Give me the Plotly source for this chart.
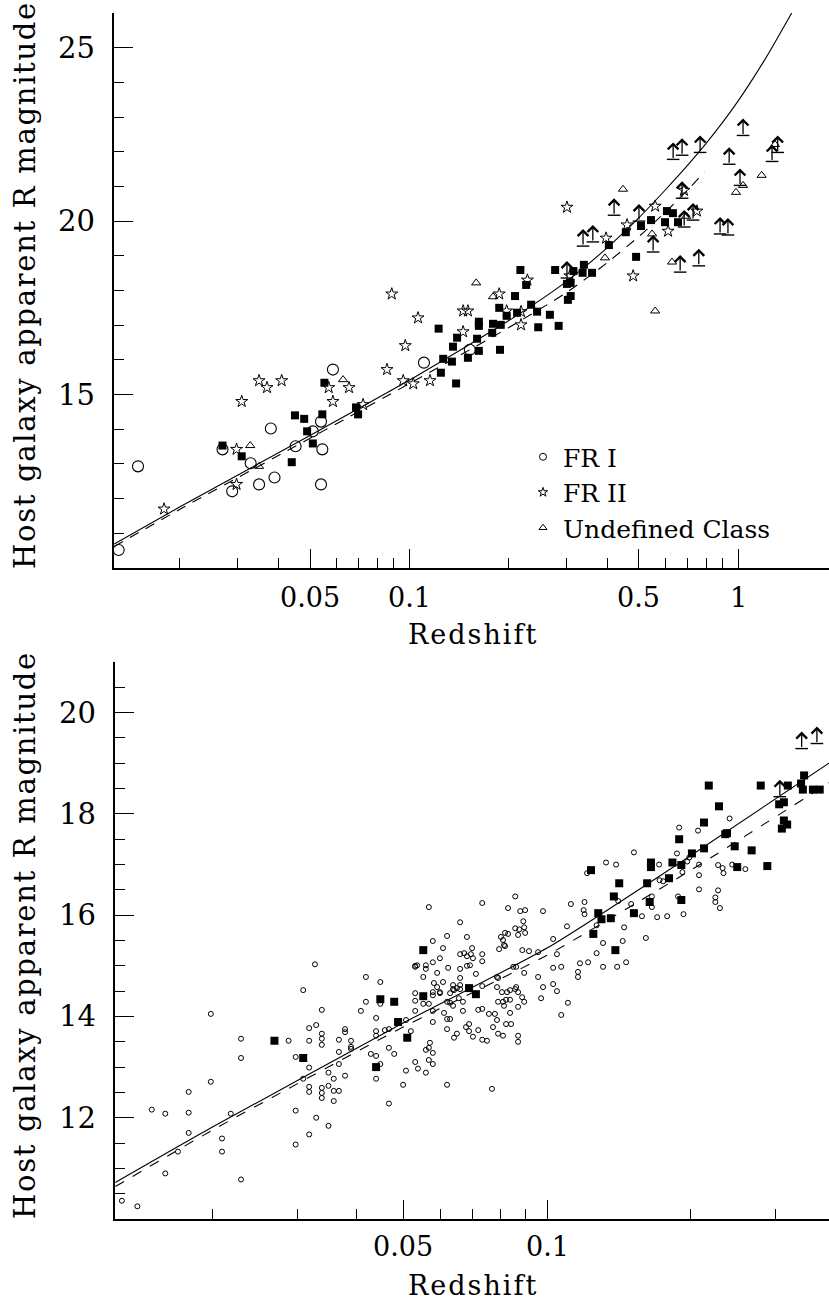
import math
import plotly.graph_objects as go

FONT = "DejaVu Serif"

# ---------------- upper panel: classified radio galaxies ----------------
fr1 = [(0.0131, 10.52), (0.0150, 12.93), (0.0271, 13.42), (0.0290, 12.21), (0.0330, 13.02),
       (0.0350, 12.41), (0.0380, 14.02), (0.0390, 12.61), (0.0452, 13.51), (0.0510, 13.94),
       (0.0540, 14.22), (0.0545, 13.42), (0.0540, 12.41), (0.0587, 15.72), (0.111, 15.92),
       (0.153, 16.29)]

fr2 = [(0.0180, 11.70), (0.0299, 13.42), (0.0299, 12.41), (0.0310, 14.80), (0.0350, 15.40),
       (0.0370, 15.20), (0.0410, 15.40), (0.0570, 15.20), (0.0587, 14.80), (0.0657, 15.20),
       (0.0725, 14.71), (0.0857, 15.72), (0.0960, 15.40), (0.0974, 16.41), (0.103, 15.31),
       (0.1158, 15.40), (0.0886, 17.90), (0.1065, 17.21), (0.146, 16.81), (0.146, 17.41),
       (0.151, 17.41), (0.188, 17.90), (0.198, 17.41), (0.219, 17.39), (0.219, 17.01),
       (0.229, 18.30), (0.302, 20.40), (0.308, 18.42), (0.397, 19.51), (0.460, 19.89),
       (0.480, 18.42), (0.560, 20.43), (0.613, 19.71), (0.685, 20.89), (0.750, 20.29)]

undef = [(0.0329, 13.53), (0.0350, 12.93), (0.0630, 15.43), (0.160, 18.22), (0.180, 17.82),
         (0.447, 20.92), (0.394, 18.94), (0.548, 19.63), (0.630, 18.82), (0.560, 17.41),
         (0.986, 20.83), (1.036, 21.03), (1.180, 21.32), (1.295, 22.21), (0.696, 20.14)]

top_filled = [(0.0271, 13.53), (0.031, 13.22), (0.044, 13.05), (0.045, 14.40), (0.048, 14.30),
              (0.049, 13.94), (0.051, 13.59), (0.0545, 14.43), (0.0553, 15.34), (0.069, 14.63),
              (0.070, 14.43), (0.123, 16.90), (0.140, 16.64), (0.136, 16.38), (0.127, 16.03),
              (0.135, 15.95), (0.125, 15.63), (0.139, 15.32), (0.151, 16.06), (0.163, 16.26),
              (0.161, 16.61), (0.163, 17.10), (0.163, 16.98), (0.179, 16.78), (0.180, 17.04),
              (0.190, 17.01), (0.189, 16.29), (0.188, 17.50), (0.210, 17.84), (0.198, 17.27),
              (0.213, 17.36), (0.218, 18.59), (0.227, 18.16), (0.235, 17.59), (0.245, 17.39),
              (0.247, 16.94), (0.268, 17.30), (0.285, 16.98), (0.304, 17.73), (0.278, 18.59),
              (0.302, 18.19), (0.310, 18.22), (0.310, 17.84), (0.316, 18.56), (0.340, 18.74),
              (0.337, 18.51), (0.360, 18.51), (0.405, 19.31), (0.456, 19.68), (0.490, 18.97),
              (0.507, 19.86), (0.544, 20.03), (0.600, 19.97), (0.608, 20.29), (0.634, 20.23),
              (0.657, 19.97)]

# lower limits (magnitude is a bound, arrow points fainter)
top_limits = [(0.302, 18.36), (0.338, 19.28), (0.362, 19.40), (0.420, 20.17), (0.500, 20.00),
              (0.552, 19.11), (0.635, 21.78), (0.676, 21.90), (0.767, 21.98), (0.676, 20.66),
              (0.686, 19.83), (0.730, 20.03), (0.667, 18.53), (0.760, 18.71), (0.882, 19.63),
              (0.932, 19.60), (0.940, 21.64), (1.014, 21.03), (1.036, 22.47), (1.269, 21.72),
              (1.320, 21.98)]

top_model_solid = [(0.0127, 10.69), (0.02, 11.75), (0.05, 13.82), (0.1, 15.41), (0.2, 17.12),
                   (0.3, 18.25), (0.4, 19.23), (0.5, 20.10), (0.6, 20.89), (0.7, 21.59),
                   (0.8, 22.24), (0.9, 22.86), (1.0, 23.46), (1.1, 24.05), (1.2, 24.62),
                   (1.3, 25.18), (1.46, 26.02)]
top_model_dashed = [(0.0127, 10.62), (0.02, 11.68), (0.05, 13.74), (0.1, 15.31), (0.2, 16.92),
                    (0.3, 17.93), (0.4, 18.80), (0.5, 19.56), (0.6, 20.25), (0.7, 20.88),
                    (0.79, 21.41)]

# ---------------- lower panel ----------------
bottom_open = [
    (0.0129, 10.36), (0.0139, 10.25), (0.0149, 12.16), (0.0159, 12.08), (0.0159, 10.90),
    (0.0169, 11.33), (0.0178, 12.51), (0.0178, 12.10), (0.0178, 11.70), (0.0198, 14.05),
    (0.0198, 12.71), (0.0209, 11.59), (0.0209, 11.33), (0.0218, 12.08), (0.0229, 13.56),
    (0.0229, 13.18), (0.0229, 10.78), (0.0288, 13.52), (0.0298, 12.14), (0.0298, 11.47),
    (0.0298, 13.20), (0.0309, 14.52), (0.0318, 13.77), (0.0318, 13.52), (0.0318, 12.99),
    (0.0309, 12.77), (0.0318, 12.61), (0.0318, 12.51), (0.0318, 11.67), (0.0327, 15.03),
    (0.0329, 13.83), (0.0329, 12.00), (0.0338, 14.13), (0.0338, 13.66), (0.0338, 13.56),
    (0.0338, 13.44), (0.0338, 12.59), (0.0338, 12.49), (0.0338, 12.39), (0.0349, 12.89),
    (0.0349, 12.63), (0.0349, 11.84), (0.0358, 12.77), (0.0358, 12.53), (0.0367, 12.53),
    (0.0358, 12.33), (0.0367, 13.54), (0.0367, 13.30), (0.0367, 13.06), (0.0378, 13.75),
    (0.0378, 13.69), (0.0389, 13.52), (0.0389, 13.40), (0.0389, 13.36), (0.0378, 12.83),
    (0.0408, 14.11), (0.0418, 14.78), (0.0418, 14.29), (0.0428, 13.26), (0.0439, 13.97),
    (0.0439, 13.71), (0.0439, 13.62), (0.0439, 13.22), (0.0439, 12.77), (0.0448, 14.68),
    (0.0448, 14.25), (0.0448, 13.06), (0.0458, 13.73), (0.0467, 13.75), (0.0467, 13.38),
    (0.0467, 12.28), (0.0479, 13.26), (0.0500, 12.65), (0.0507, 12.93), (0.0507, 13.93),
    (0.0519, 13.71), (0.0530, 15.00), (0.0530, 14.46), (0.0530, 14.31), (0.0530, 14.11),
    (0.0530, 13.10), (0.0537, 12.97),
    (0.0558, 12.89), (0.0566, 13.14), (0.0577, 13.06), (0.0558, 13.34), (0.0566, 13.38),
    (0.0569, 13.48), (0.0577, 13.28), (0.0551, 14.25), (0.0566, 14.25), (0.0577, 14.11),
    (0.0577, 13.89), (0.0577, 14.42), (0.0597, 14.46), (0.0589, 14.58), (0.0609, 14.07),
    (0.0618, 14.29), (0.0627, 14.27), (0.0636, 14.21), (0.0618, 13.95), (0.0627, 13.95),
    (0.0618, 13.75), (0.0639, 13.58), (0.0648, 13.66), (0.0667, 14.11), (0.0677, 13.79),
    (0.0687, 13.71), (0.0687, 13.85), (0.0700, 13.60), (0.0718, 13.73), (0.0718, 14.13),
    (0.0732, 14.15), (0.0732, 13.54), (0.0749, 13.52), (0.0756, 14.05), (0.0778, 14.05),
    (0.0786, 13.93), (0.0771, 13.79), (0.0790, 13.66), (0.0809, 13.62), (0.0821, 13.85),
    (0.0841, 13.85), (0.0837, 14.07), (0.0870, 13.62), (0.0870, 13.50), (0.0767, 12.57),
    (0.0618, 12.65), (0.0805, 14.48), (0.0825, 14.48), (0.0837, 14.52), (0.0858, 14.54),
    (0.0786, 14.78), (0.0790, 14.29), (0.0809, 14.29), (0.0821, 14.33), (0.0837, 14.33),
    (0.0887, 14.38), (0.0896, 14.29), (0.0896, 14.86), (0.0958, 14.78), (0.0981, 14.58),
    (0.0972, 14.36), (0.1030, 14.96), (0.1071, 14.98), (0.1030, 14.64), (0.1049, 14.50),
    (0.1071, 14.03), (0.1106, 14.27), (0.1161, 14.88), (0.1161, 14.78), (0.1172, 15.05),
    (0.1219, 15.07), (0.1310, 14.98), (0.1402, 14.98), (0.1464, 15.07), (0.0732, 14.60),
    (0.0658, 14.54), (0.0658, 14.62), (0.0636, 14.62), (0.0636, 14.54),
    (0.0566, 16.16), (0.0732, 16.24), (0.0858, 16.37), (0.0829, 16.14), (0.0879, 16.08),
    (0.0900, 16.10), (0.0981, 16.08), (0.1122, 16.22), (0.0658, 15.86), (0.0892, 15.88),
    (0.0896, 15.76), (0.0875, 15.72), (0.0858, 15.74), (0.0900, 15.65), (0.0577, 15.49),
    (0.0618, 15.59), (0.0680, 15.57), (0.0801, 15.57), (0.0817, 15.65), (0.0829, 15.63),
    (0.0813, 15.41), (0.0809, 15.51), (0.0870, 15.61), (0.1101, 15.78), (0.1030, 15.53),
    (0.0817, 15.39), (0.0794, 15.33), (0.0697, 15.35), (0.0606, 15.35), (0.0888, 15.31),
    (0.0917, 15.29), (0.0658, 15.23), (0.0671, 15.25), (0.0680, 15.19), (0.0693, 15.23),
    (0.0732, 15.23), (0.0732, 15.09), (0.0700, 15.15), (0.0577, 15.07), (0.0597, 15.15),
    (0.0558, 15.01), (0.0535, 15.01), (0.0530, 14.98), (0.0558, 14.94), (0.0621, 14.96),
    (0.0658, 14.94), (0.0680, 15.00), (0.0690, 15.01), (0.0589, 14.86), (0.0551, 14.78),
    (0.0580, 14.66), (0.0606, 14.68), (0.0597, 14.48), (0.0577, 14.48), (0.0658, 14.76),
    (0.0710, 14.84), (0.0790, 14.76), (0.0786, 14.58), (0.0870, 14.48), (0.0850, 14.98),
    (0.0862, 14.98), (0.0862, 14.58), (0.0813, 14.21), (0.0870, 14.19), (0.0667, 14.29),
    (0.0654, 14.36), (0.0639, 14.52), (0.0648, 14.56), (0.0627, 14.46), (0.0958, 15.27),
    (0.1049, 15.23),
    (0.1198, 16.26), (0.1193, 16.10), (0.1198, 16.02), (0.1213, 16.83), (0.1329, 17.04),
    (0.1395, 17.00), (0.1520, 17.24), (0.1409, 16.28), (0.1500, 16.22), (0.1580, 15.98),
    (0.1700, 15.96), (0.1784, 15.98), (0.1930, 16.02), (0.1657, 16.37), (0.1657, 16.16),
    (0.1716, 17.00), (0.1720, 16.69), (0.1750, 16.67), (0.1890, 17.73), (0.1870, 17.22),
    (0.1965, 17.06), (0.1985, 17.14), (0.1920, 16.85), (0.1880, 16.37), (0.2070, 17.67),
    (0.2080, 17.00), (0.2080, 16.79), (0.2080, 16.51), (0.2280, 16.99), (0.2330, 16.93),
    (0.2340, 16.83), (0.2280, 16.49), (0.2250, 16.35), (0.2250, 16.26), (0.2300, 16.14),
    (0.2410, 17.91), (0.2440, 17.00), (0.2600, 16.91), (0.1310, 15.45), (0.1270, 15.80),
    (0.1440, 15.49), (0.1610, 15.55), (0.1450, 15.76), (0.1270, 15.25)]

bottom_filled = [(0.0269, 13.52), (0.0309, 13.18), (0.0439, 13.00), (0.0448, 14.34),
                 (0.0479, 14.29), (0.0488, 13.89), (0.0510, 13.58), (0.0551, 14.40),
                 (0.0551, 15.31), (0.0687, 14.56), (0.0710, 14.44), (0.1236, 16.89),
                 (0.1416, 16.63), (0.138, 16.37), (0.128, 16.04), (0.130, 15.92),
                 (0.136, 15.94), (0.125, 15.63), (0.139, 15.31), (0.152, 16.04),
                 (0.162, 16.63), (0.165, 17.04), (0.165, 16.95), (0.164, 16.26),
                 (0.180, 16.73), (0.183, 17.04), (0.191, 16.99), (0.189, 17.50),
                 (0.191, 16.30), (0.201, 17.22), (0.213, 17.83), (0.213, 17.32),
                 (0.218, 18.56), (0.229, 18.15), (0.236, 17.60), (0.238, 17.62),
                 (0.247, 17.36), (0.250, 16.95), (0.268, 17.28), (0.280, 18.56),
                 (0.289, 16.97), (0.306, 18.19), (0.313, 18.23), (0.310, 17.71),
                 (0.313, 17.87), (0.318, 17.79), (0.319, 18.56), (0.340, 18.60),
                 (0.343, 18.48), (0.345, 18.76), (0.360, 18.48), (0.372, 18.48)]

bottom_limits = [(0.307, 18.34), (0.341, 19.29), (0.367, 19.39)]

bottom_model_solid = [(0.0125, 10.72), (0.02, 11.82), (0.05, 13.87), (0.1, 15.35),
                      (0.2, 17.18), (0.39, 19.01)]
bottom_model_dashed = [(0.0125, 10.64), (0.02, 11.76), (0.05, 13.79), (0.1, 15.21),
                       (0.2, 16.89), (0.39, 18.62)]

# tick definitions
top_x_major = [0.05, 0.1, 0.5, 1]
top_x_labels = ["0.05", "0.1", "0.5", "1"]
top_x_minor = [0.02, 0.03, 0.04, 0.06, 0.07, 0.08, 0.09, 0.2, 0.3, 0.4, 0.6, 0.7, 0.8, 0.9]
top_y_major = [15, 20, 25]
top_y_minor = [11, 12, 13, 14, 16, 17, 18, 19, 21, 22, 23, 24, 26]
bot_x_major = [0.05, 0.1]
bot_x_labels = ["0.05", "0.1"]
bot_x_minor = [0.02, 0.03, 0.04, 0.06, 0.07, 0.08, 0.09, 0.2, 0.3]
bot_y_major = [12, 14, 16, 18, 20]
bot_y_minor = [10.5, 11, 11.5, 12.5, 13, 13.5, 14.5, 15, 15.5, 16.5, 17, 17.5,
               18.5, 19, 19.5, 20.5]

# ---------------- figure geometry (pixels) ----------------
W, H = 829, 1303
L = 114
PW = W - L


def px_x(p):
    return (p - L) / PW


def px_y(p):
    return (H - p) / H


def unzip(pairs):
    return [a for a, _ in pairs], [b for _, b in pairs]


fig = go.Figure()


def markers(pairs, xa, ya, symbol, size, filled=False, lw=1.0):
    xs, ys = unzip(pairs)
    mk = dict(symbol=symbol, size=size, color="black",
              line=dict(width=0 if filled else lw, color="black"))
    fig.add_trace(go.Scatter(x=xs, y=ys, mode="markers", marker=mk, xaxis=xa, yaxis=ya,
                             showlegend=False, hoverinfo="skip"))


def curve(pairs, xa, ya, dash):
    xs, ys = unzip(pairs)
    fig.add_trace(go.Scatter(x=xs, y=ys, mode="lines", xaxis=xa, yaxis=ya,
                             line=dict(color="black", width=1.1, dash=dash, shape="spline",
                                       smoothing=0.6),
                             showlegend=False, hoverinfo="skip"))


def limits(pairs, xa, ya, xref, yref):
    xs, ys = unzip(pairs)
    fig.add_trace(go.Scatter(x=xs, y=ys, mode="markers", xaxis=xa, yaxis=ya,
                             marker=dict(symbol="line-ew", size=9, color="black",
                                         line=dict(width=1.4, color="black")),
                             showlegend=False, hoverinfo="skip"))
    for z, m in pairs:
        fig.add_annotation(x=math.log10(z), y=m, xref=xref, yref=yref, text="",
                           showarrow=True, ax=0, ay=17, yshift=17, arrowhead=4,
                           arrowsize=1.6, arrowwidth=1.3, arrowcolor="black",
                           standoff=0, startstandoff=0)


# upper panel
curve(top_model_solid, "x", "y", "solid")
curve(top_model_dashed, "x", "y", "10px,8px")
markers(top_filled, "x", "y", "square", 8, filled=True)
markers(fr1, "x", "y", "circle-open", 11, lw=1.1)
markers(fr2, "x", "y", "star-open", 9, lw=1.0)
markers(undef, "x", "y", "triangle-up-open", 8, lw=1.0)
limits(top_limits, "x", "y", "x", "y")

# legend entries
for nm, sym in [("FR I", "circle-open"), ("FR II", "star-open"),
                ("Undefined Class", "triangle-up-open")]:
    fig.add_trace(go.Scatter(x=[None], y=[None], mode="markers", name=nm,
                             marker=dict(symbol=sym, size=7, color="black",
                                         line=dict(width=1, color="black")),
                             xaxis="x", yaxis="y", showlegend=True))

# lower panel
curve(bottom_model_solid, "x2", "y2", "solid")
curve(bottom_model_dashed, "x2", "y2", "10px,10px")
markers(bottom_open, "x2", "y2", "circle-open", 5, lw=1.0)
markers(bottom_filled, "x2", "y2", "square", 8, filled=True)
limits(bottom_limits, "x2", "y2", "x2", "y2")

tick_common = dict(ticks="inside", tickwidth=1.2, tickcolor="black", ticklen=19,
                   showgrid=False, zeroline=False, automargin=False, showticklabels=False)


def minor(vals):
    return dict(tickmode="array", tickvals=vals, ticks="inside", ticklen=10,
                tickwidth=1.2, tickcolor="black", showgrid=False)


top_dom = [px_y(568), px_y(13)]
bot_dom = [px_y(1219), px_y(662)]
top_xr = [math.log10(0.01268), (W - 738) / 329.0]
bot_xr = [-1 + (115 - 547) / 478.0, -1 + (W - 547) / 478.0]

xfont = dict(family=FONT, size=27, color="black")
yfont = dict(family=FONT, size=29, color="black")

fig.update_layout(
    width=W, height=H,
    margin=dict(l=L, r=0, t=0, b=0),
    paper_bgcolor="white", plot_bgcolor="white",
    font=dict(family=FONT, color="black"),
    xaxis=dict(type="log", range=top_xr, domain=[0, 1], anchor="y",
               tickmode="array", tickvals=top_x_major, minor=minor(top_x_minor),
               showline=True, linewidth=1.6, linecolor="black", **tick_common),
    yaxis=dict(range=[10, 26], domain=top_dom, anchor="x",
               tickmode="array", tickvals=top_y_major, minor=minor(top_y_minor),
               showline=True, linewidth=1.6, linecolor="black", **tick_common),
    xaxis3=dict(type="log", range=top_xr, overlaying="x", side="top", anchor="y",
                tickmode="array", tickvals=top_x_major,
                minor=minor(top_x_minor), showline=True, linewidth=1.6,
                linecolor="black", **tick_common),
    yaxis3=dict(range=[10, 26], overlaying="y", side="right", anchor="x",
                tickmode="array", tickvals=top_y_major,
                minor=minor(top_y_minor), showline=False, **tick_common),
    xaxis2=dict(type="log", range=bot_xr, domain=[1 / PW, 1], anchor="y2",
                tickmode="array", tickvals=bot_x_major, minor=minor(bot_x_minor),
                showline=True, linewidth=1.6, linecolor="black", **tick_common),
    yaxis2=dict(range=[10, 21], domain=bot_dom, anchor="x2",
                tickmode="array", tickvals=bot_y_major, minor=minor(bot_y_minor),
                showline=True, linewidth=1.6, linecolor="black", **tick_common),
    xaxis4=dict(type="log", range=bot_xr, overlaying="x2", side="top", anchor="y2",
                tickmode="array", tickvals=bot_x_major,
                minor=minor(bot_x_minor), showline=True, linewidth=1.6,
                linecolor="black", **tick_common),
    yaxis4=dict(range=[10, 21], overlaying="y2", side="right", anchor="x2",
                tickmode="array", tickvals=bot_y_major,
                minor=minor(bot_y_minor), showline=False, **tick_common),
    legend=dict(x=px_x(523), y=px_y(434), xanchor="left", yanchor="top",
                bgcolor="rgba(0,0,0,0)", borderwidth=0,
                font=dict(family=FONT, size=25, color="black"),
                itemclick=False, itemdoubleclick=False),
)

# tick labels, placed at the tick values
for v, lbl in zip(top_x_major, top_x_labels):
    fig.add_annotation(text=lbl, x=math.log10(v), xref="x", y=px_y(597), yref="paper",
                       showarrow=False, xanchor="center", yanchor="middle", font=xfont)
for v, lbl in zip(bot_x_major, bot_x_labels):
    fig.add_annotation(text=lbl, x=math.log10(v), xref="x2", y=px_y(1246), yref="paper",
                       showarrow=False, xanchor="center", yanchor="middle", font=xfont)
for v in top_y_major:
    fig.add_annotation(text=str(v), x=px_x(97), xref="paper", y=v, yref="y",
                       showarrow=False, xanchor="right", yanchor="middle", font=yfont)
for v in bot_y_major:
    fig.add_annotation(text=str(v), x=px_x(98), xref="paper", y=v, yref="y2",
                       showarrow=False, xanchor="right", yanchor="middle", font=yfont)

ytitle = "<span style='letter-spacing:1.7px'>Host galaxy apparent R magnitude</span>"
xtitle = "<span style='letter-spacing:2px'>Redshift</span>"
for yc in (285, 935):
    fig.add_annotation(text=ytitle, xref="paper", yref="paper", x=px_x(25), y=px_y(yc),
                       textangle=-90, showarrow=False, xanchor="center", yanchor="middle",
                       font=dict(family=FONT, size=29, color="black"))
for yc in (634, 1285):
    fig.add_annotation(text=xtitle, xref="paper", yref="paper", x=px_x(473), y=px_y(yc),
                       showarrow=False, xanchor="center", yanchor="middle",
                       font=dict(family=FONT, size=27, color="black"))

fig.write_html("out.html", config=dict(displayModeBar=False))
